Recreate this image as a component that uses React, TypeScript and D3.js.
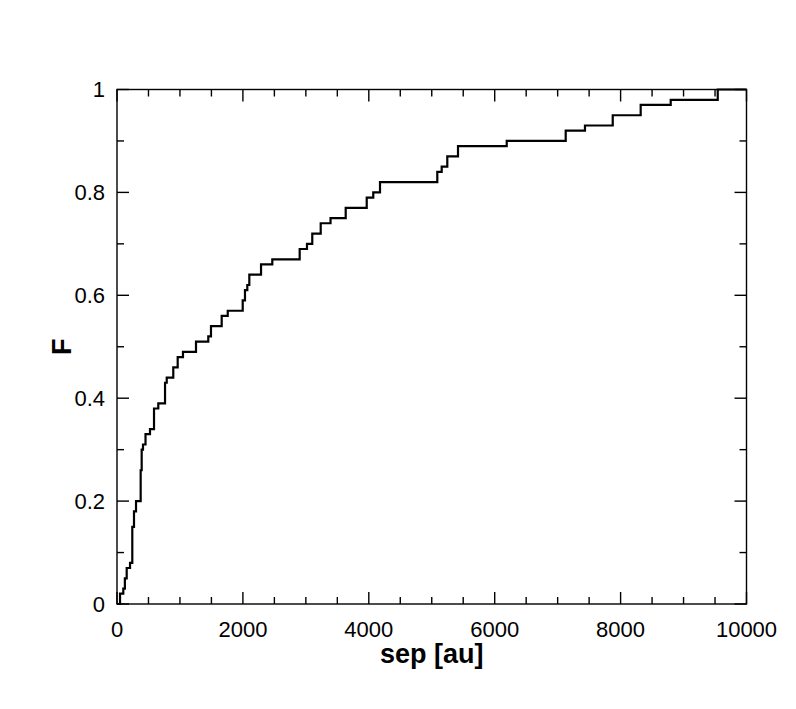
import React from "react";
import * as d3 from "d3";

const sepValues = [0, 48, 100, 125, 154, 207, 243, 270, 302, 376, 392, 413, 453, 524, 588, 656, 763, 790, 894, 964, 1048, 1255, 1450, 1493, 1663, 1759, 1997, 2033, 2070, 2102, 2288, 2467, 2902, 3018, 3102, 3236, 3392, 3633, 3967, 4071, 4178, 5088, 5158, 5247, 5417, 6191, 7128, 7434, 7875, 8319, 8796, 9543, 10000];
const fValues = [0, 0.02, 0.03, 0.05, 0.07, 0.08, 0.15, 0.18, 0.2, 0.26, 0.3, 0.31, 0.33, 0.34, 0.38, 0.39, 0.43, 0.44, 0.46, 0.48, 0.49, 0.51, 0.52, 0.54, 0.56, 0.57, 0.59, 0.61, 0.62, 0.64, 0.66, 0.67, 0.69, 0.7, 0.72, 0.74, 0.75, 0.77, 0.79, 0.8, 0.82, 0.84, 0.85, 0.87, 0.89, 0.9, 0.92, 0.93, 0.95, 0.97, 0.98, 1.0, 1.0];

const xMajorTicks = [0, 2000, 4000, 6000, 8000, 10000];
const xMinorTicks = d3.range(0, 10001, 500);
const yMajorTicks = [0, 0.2, 0.4, 0.6, 0.8, 1];
const yMinorTicks = d3.range(0, 1.0001, 0.1);
const yTickLabels = ["0", "0.2", "0.4", "0.6", "0.8", "1"];
const xTickLabels = ["0", "2000", "4000", "6000", "8000", "10000"];

export default function App() {
  const W = 796, H = 709;
  const left = 117, right = 746.5, top = 89.5, bottom = 604;
  const x = d3.scaleLinear().domain([0, 10000]).range([left, right]);
  const y = d3.scaleLinear().domain([0, 1]).range([bottom, top]);
  const pts = sepValues.map((s, i) => [s, fValues[i]] as [number, number]);
  const line = d3.line<[number, number]>().x(d => x(d[0])).y(d => y(d[1])).curve(d3.curveStepAfter);
  const font = "Arial, 'Liberation Sans', Helvetica, sans-serif";
  const major = 12, minor = 7;
  return (
    <svg width={W} height={H} style={{ position: "absolute", left: 0, top: 0, background: "#fff" }}>
      <rect x={0} y={0} width={W} height={H} fill="#fff" />
      <g stroke="#000" strokeWidth={1.4} fill="none">
        {xMinorTicks.map((t, i) => {
          const isMajor = t % 2000 === 0;
          const L = isMajor ? major : minor;
          return (
            <g key={"xt" + i}>
              <line x1={x(t)} x2={x(t)} y1={bottom} y2={bottom - L} />
              <line x1={x(t)} x2={x(t)} y1={top} y2={top + L} />
            </g>
          );
        })}
        {yMinorTicks.map((t, i) => {
          const isMajor = Math.round(t * 10) % 2 === 0;
          const L = isMajor ? major : minor;
          return (
            <g key={"yt" + i}>
              <line x1={left} x2={left + L} y1={y(t)} y2={y(t)} />
              <line x1={right} x2={right - L} y1={y(t)} y2={y(t)} />
            </g>
          );
        })}
        <rect x={left} y={top} width={right - left} height={bottom - top} />
      </g>
      <path d={line(pts) || ""} fill="none" stroke="#000" strokeWidth={2.2} strokeLinejoin="miter" />
      <g fontFamily={font} fontSize={22} fill="#000">
        {yMajorTicks.map((t, i) => (
          <text key={"yl" + i} x={left - 12} y={y(t)} dy="0.36em" textAnchor="end">{yTickLabels[i]}</text>
        ))}
        {xMajorTicks.map((t, i) => (
          <text key={"xl" + i} x={x(t)} y={637} textAnchor="middle">{xTickLabels[i]}</text>
        ))}
      </g>
      <text x={(left + right) / 2} y={663} textAnchor="middle" fontFamily={font} fontWeight="bold" fontSize={27}>sep [au]</text>
      <text transform={`translate(71, ${(top + bottom) / 2}) rotate(-90)`} textAnchor="middle" fontFamily={font} fontWeight="bold" fontSize={27}>F</text>
    </svg>
  );
}
